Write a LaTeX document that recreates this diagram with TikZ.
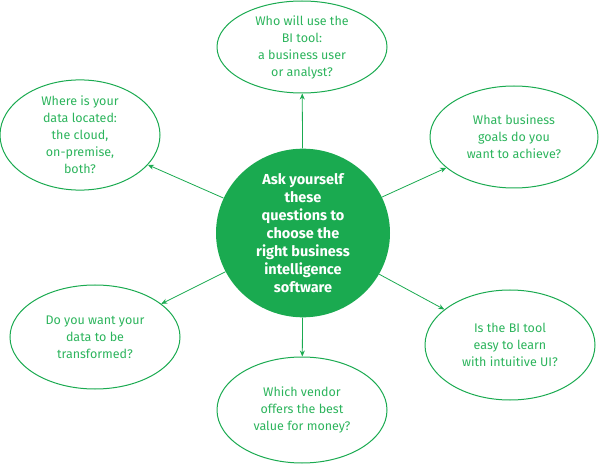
\documentclass[tikz,border=0pt]{standalone}
\usepackage{fontspec}
\setmainfont{Fira Sans}
\usetikzlibrary{arrows.meta,shapes.geometric}
\definecolor{bigreen}{RGB}{26,170,80}
\definecolor{qgreen}{RGB}{44,180,92}

\begin{document}
\begin{tikzpicture}[x=1pt,y=-1pt,
  question/.style={ellipse,draw=bigreen,line width=1pt,text=qgreen,align=center,minimum width=170pt,minimum height=104pt,inner sep=0pt,font=\fontsize{12.5}{17}\selectfont},
  hub/.style={ellipse,fill=bigreen,text=white,align=center,minimum width=174pt,minimum height=140pt,inner sep=0pt,font=\fontsize{14.5}{18}\selectfont\bfseries},
  arr/.style={-{Stealth[length=6pt,width=5pt]},draw=bigreen,line width=0.8pt}
]
\useasboundingbox (0,0) rectangle (600,465);
\node[hub] (hub) at (303,233) {Ask yourself\\these\\questions to\\choose the\\right business\\intelligence\\software};
\node[question,minimum height=92pt] (who) at (302,47) {Who will use the\\BI tool:\\a business user\\or analyst?};
\node[question,minimum width=160pt] (where) at (80,135) {Where is your\\data located:\\the cloud,\\on-premise,\\both?};
\node[question,minimum width=168pt,minimum height=102pt] (goals) at (514,137) {What business\\goals do you\\want to achieve?};
\node[question] (transform) at (95,337) {Do you want your\\data to be\\transformed?};
\node[question,minimum height=110pt] (easy) at (510,345) {Is the BI tool\\easy to learn\\with intuitive UI?};
\node[question,minimum height=106pt] (vendor) at (302,410) {Which vendor\\offers the best\\value for money?};
\draw[arr] (hub) -- (who);
\draw[arr] (hub) -- (where);
\draw[arr] (hub) -- (goals);
\draw[arr] (hub) -- (transform);
\draw[arr] (hub) -- (easy);
\draw[arr] (hub) -- (vendor);
\end{tikzpicture}
\end{document}
